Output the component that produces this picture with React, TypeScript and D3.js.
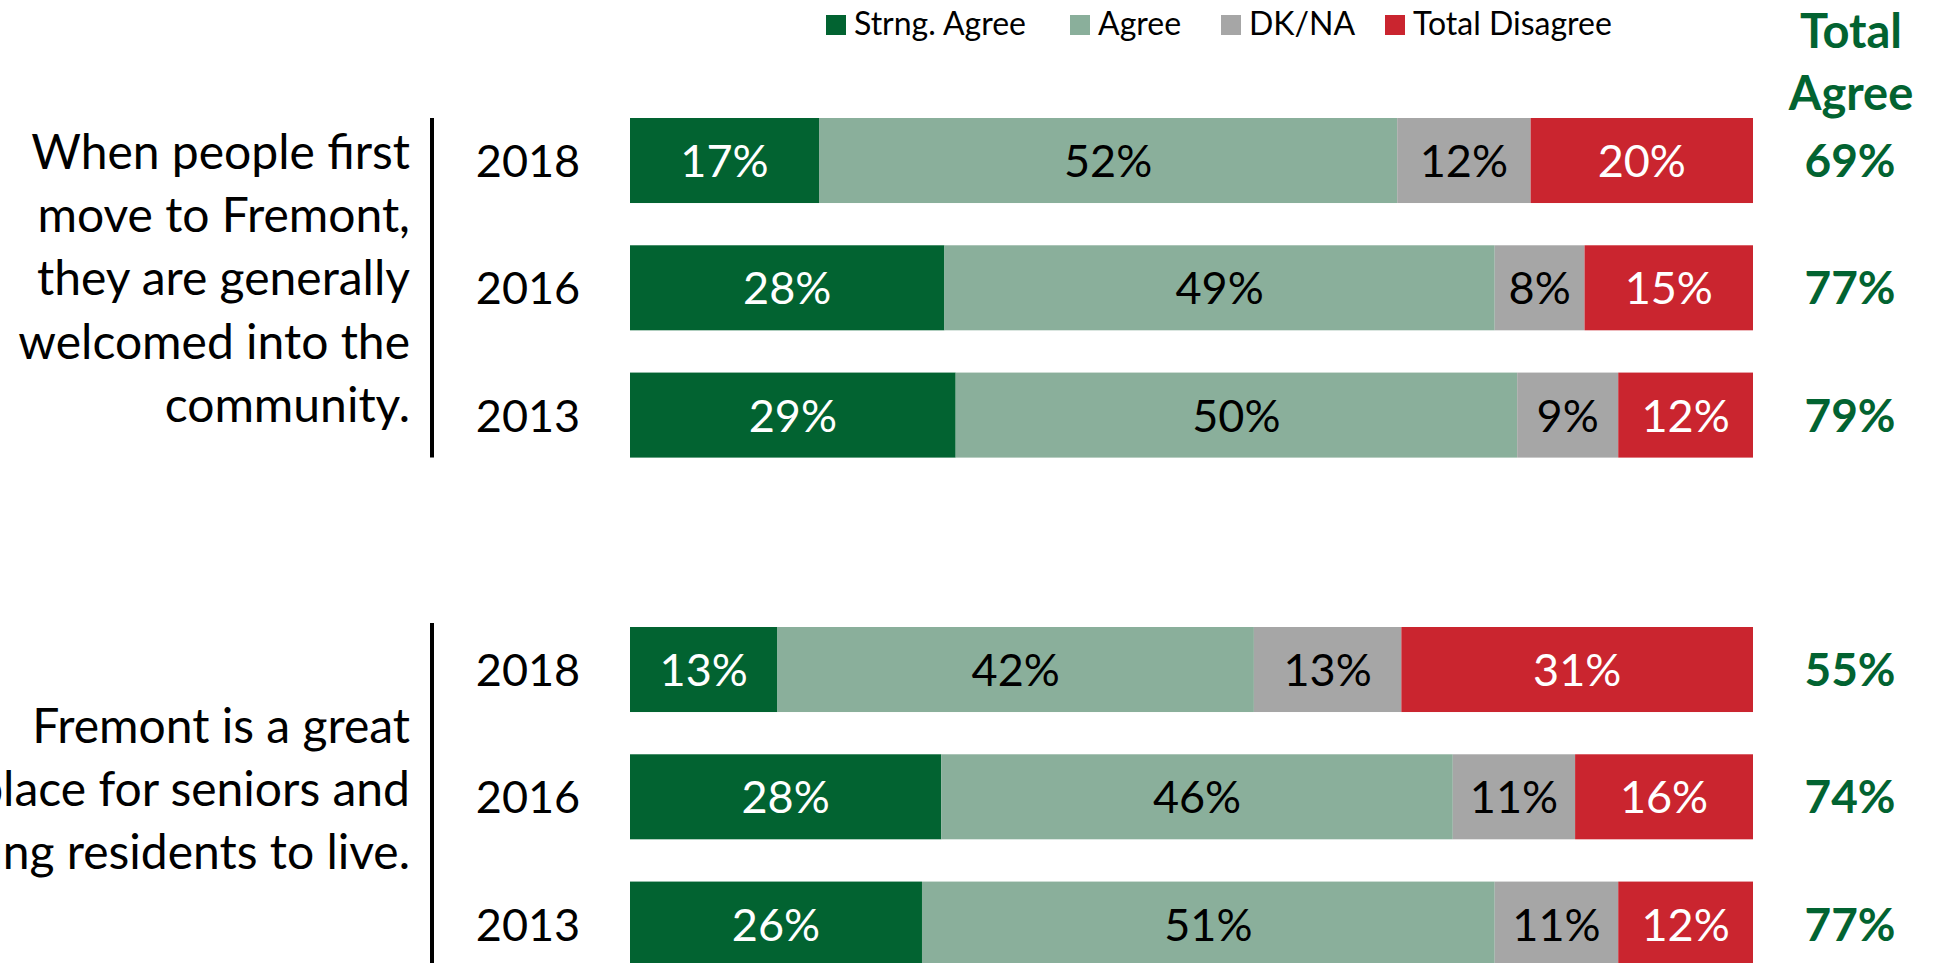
import React from "react";
import * as d3 from "d3";

const series = ["Strng. Agree", "Agree", "DK/NA", "Total Disagree"];
const seriesColors = ["#026331", "#8AAF9B", "#A6A6A6", "#CA252F"];
const labelColors = ["#FFFFFF", "#000000", "#000000", "#FFFFFF"];
const years = ["2018", "2016", "2013"];

const q1Lines = ["When people first", "move to Fremont,", "they are generally", "welcomed into the", "community."];
const q1StrngAgree = [17, 28, 29];
const q1Agree = [52, 49, 50];
const q1DKNA = [12, 8, 9];
const q1Disagree = [20, 15, 12];
const q1TotalAgree = [69, 77, 79];

const q2Lines = ["Fremont is a great", "place for seniors and", "young residents to live."];
const q2StrngAgree = [13, 28, 26];
const q2Agree = [42, 46, 51];
const q2DKNA = [13, 11, 11];
const q2Disagree = [31, 16, 12];
const q2TotalAgree = [55, 74, 77];

const FONT = "Lato, 'Open Sans', sans-serif";
const GREEN_TEXT = "#026331";

type Row = { year: string; [k: string]: number | string };

function buildRows(a: number[], b: number[], c: number[], d: number[]): Row[] {
  return years.map((y, i) => ({
    year: y,
    "Strng. Agree": a[i],
    Agree: b[i],
    "DK/NA": c[i],
    "Total Disagree": d[i],
  }));
}

const x = d3.scaleLinear().domain([0, 1]).range([630, 1753]);

function Group({ rows, totals, lines, y0, lineTop, lineBottom, textBaseline0 }: any) {
  const y = d3
    .scaleBand<string>()
    .domain(years)
    .range([y0, y0 + 339.6])
    .paddingInner(0.332)
    .paddingOuter(0);
  const stack = d3.stack<Row>().keys(series).value((d, k) => d[k] as number).offset(d3.stackOffsetExpand);
  const stacked = stack(rows);
  const bw = y.bandwidth();
  return (
    <g>
      {lines.map((l: string, i: number) => (
        <text key={i} x={410} y={textBaseline0 + i * 63.2} textAnchor="end" fontSize={48} fontFamily={FONT} fill="#000">
          {l}
        </text>
      ))}
      <line x1={432} x2={432} y1={lineTop} y2={lineBottom} stroke="#000" strokeWidth={4} />
      {years.map((yr) => (
        <text key={yr} x={528} y={(y(yr) as number) + bw / 2 + 16.5} textAnchor="middle" fontSize={45} fontFamily={FONT} fill="#000">
          {yr}
        </text>
      ))}
      {stacked.map((s, si) => (
        <g key={s.key}>
          {s.map((d, i) => {
            const x0 = x(d[0]);
            const x1 = x(d[1]);
            const yy = y(rows[i].year) as number;
            return (
              <g key={i}>
                <rect x={x0} y={yy} width={x1 - x0} height={bw} fill={seriesColors[si]} />
                <text
                  x={(x0 + x1) / 2}
                  y={yy + bw / 2 + 16.5}
                  textAnchor="middle"
                  fontSize={45}
                  fontFamily={FONT}
                  fill={labelColors[si]}
                >
                  {rows[i][s.key as string]}%
                </text>
              </g>
            );
          })}
        </g>
      ))}
      {years.map((yr, i) => (
        <text
          key={yr}
          x={1850}
          y={(y(yr) as number) + bw / 2 + 16.5}
          textAnchor="middle"
          fontSize={46}
          fontWeight={700}
          fontFamily={FONT}
          fill={GREEN_TEXT}
        >
          {totals[i]}%
        </text>
      ))}
    </g>
  );
}

const legendX = [826, 1070, 1221, 1385];

export default function App() {
  const rows1 = buildRows(q1StrngAgree, q1Agree, q1DKNA, q1Disagree);
  const rows2 = buildRows(q2StrngAgree, q2Agree, q2DKNA, q2Disagree);
  return (
    <svg
      width={1936}
      height={963}
      style={{ position: "absolute", left: 0, top: 0, background: "#fff" }}
      overflow="hidden"
    >
      <rect x={0} y={0} width={1936} height={963} fill="#fff" />
      {series.map((s, i) => (
        <g key={s}>
          <rect x={legendX[i]} y={15} width={20} height={20} fill={seriesColors[i]} />
          <text x={legendX[i] + 28} y={34.5} fontSize={32} fontFamily={FONT} fill="#000">
            {s}
          </text>
        </g>
      ))}
      <text x={1851} y={48} textAnchor="middle" fontSize={47} fontWeight={700} fontFamily={FONT} fill={GREEN_TEXT}>
        Total
      </text>
      <text x={1851} y={110} textAnchor="middle" fontSize={47} fontWeight={700} fontFamily={FONT} fill={GREEN_TEXT}>
        Agree
      </text>
      <Group rows={rows1} totals={q1TotalAgree} lines={q1Lines} y0={118} lineTop={118} lineBottom={457.6} textBaseline0={169} />
      <Group rows={rows2} totals={q2TotalAgree} lines={q2Lines} y0={627} lineTop={623} lineBottom={966} textBaseline0={743} />
    </svg>
  );
}
